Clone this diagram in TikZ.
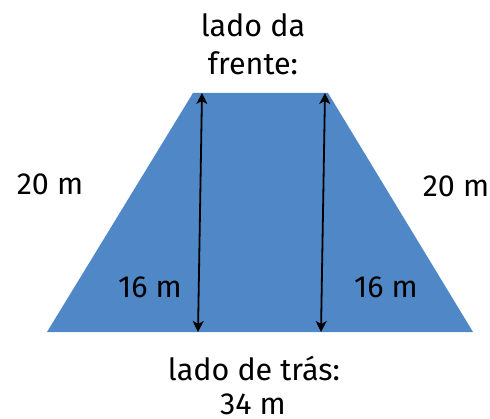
\documentclass[tikz,border=0pt]{standalone}
\usepackage{fontspec}
\setmainfont{Fira Sans}
\usetikzlibrary{arrows.meta}
\definecolor{trapfill}{HTML}{4F87C7}
\tikzset{
  lbl/.style={font=\fontsize{30.5}{34}\selectfont, anchor=base, inner sep=0pt, text=black},
  dim/.style={line width=1.8pt, {Stealth[length=11pt,width=11pt,inset=3pt]}-{Stealth[length=11pt,width=11pt,inset=3pt]}}
}
\begin{document}
\begin{tikzpicture}[x=1pt,y=1pt]
\useasboundingbox (0,0) rectangle (490,418);
% trapezoid corners (y measured up = 418 - px)
\coordinate (tl) at (193,325);
\coordinate (tr) at (328,325);
\coordinate (br) at (473,86);
\coordinate (bl) at (47,86);
\fill[trapfill] (tl) -- (tr) -- (br) -- (bl) -- cycle;
% height arrows
\coordinate (a1t) at (202,325);
\coordinate (a1b) at (198,86);
\coordinate (a2t) at (325,325);
\coordinate (a2b) at (321,86);
\draw[dim] (a1t) -- (a1b);
\draw[dim] (a2t) -- (a2b);
% labels
\node[lbl] (front1) at (253,381) {lado da};
\node[lbl] (front2) at (253,343) {frente:};
\node[lbl] (left20) at (50,223) {20 m};
\node[lbl] (right20) at (456,221) {20 m};
\node[lbl] (left16) at (150,120) {16 m};
\node[lbl] (right16) at (386,120) {16 m};
\node[lbl] (back1) at (254,38) {lado de trás:};
\node[lbl] (back2) at (253,4) {34 m};
\end{tikzpicture}
\end{document}
